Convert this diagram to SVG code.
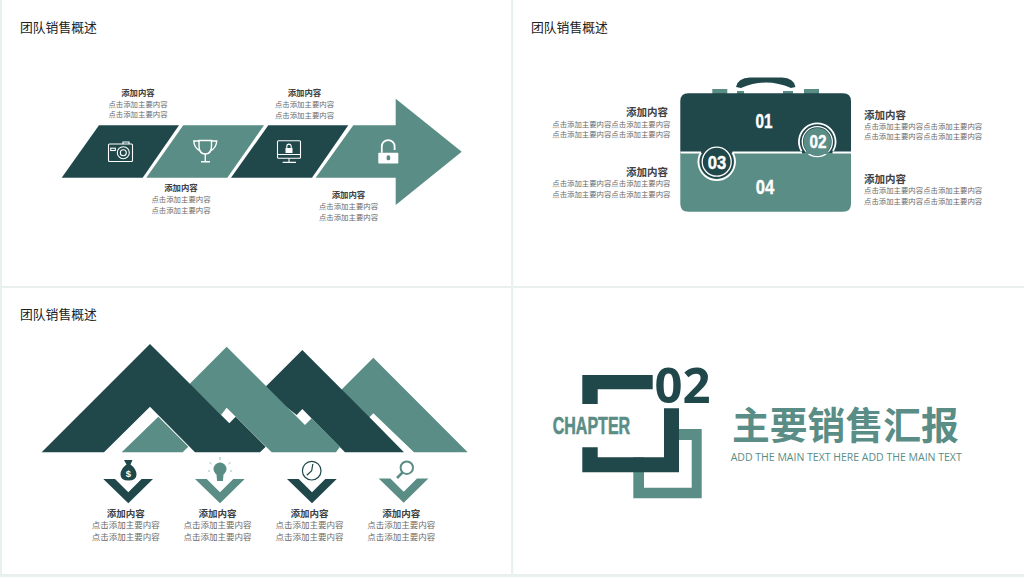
<svg xmlns="http://www.w3.org/2000/svg" width="1024" height="577" viewBox="0 0 1024 577">
<style>
.d{fill:#20474a}.t{fill:#5a8d85}
text{font-family:"Noto Sans CJK SC","Noto Sans",sans-serif}
.h{font-size:12.8px;fill:#222}
.a{font-size:8.4px;font-weight:700;fill:#404040;text-anchor:middle}
.b{font-size:7.4px;fill:#6a6a6a;text-anchor:middle}
.a2{font-size:10.5px;font-weight:700;fill:#404040}
.b2{font-size:7.4px;fill:#6a6a6a}
.a3{font-size:9.5px;font-weight:700;fill:#404040;text-anchor:middle}
.b3{font-size:8.5px;fill:#6a6a6a;text-anchor:middle}
.n{font-family:"Liberation Sans",sans-serif;font-weight:700;fill:#fff;text-anchor:middle;stroke:#fff;stroke-width:.4}
.w{fill:none;stroke:#fff;stroke-width:1.1}
.i{fill:none;stroke-width:1.2}
</style>
<rect width="1024" height="577" fill="#fff"/>
<g id="grid" fill="#e9f0f0"><rect x="0" y="0" width="2" height="577"/><rect x="511" y="0" width="2.2" height="577"/><rect x="0" y="286" width="1024" height="2"/><rect x="0" y="574" width="1024" height="3"/></g>

<g id="panel1">
<text class="h" x="20" y="31.500">团队销售概述</text>
<g id="arrow-1"><polygon class="d" points="61.7,177.7 99,125.3 179,125.3 142.7,177.7"/>
<g class="w"><rect x="108.5" y="144" width="24" height="17.5" rx="1"/><path d="M123 144V142H129V144"/><circle cx="123.3" cy="152.7" r="6"/><circle cx="123.3" cy="152.7" r="3"/><rect x="110.7" y="148.2" width="4.6" height="2.3"/></g></g>
<g id="arrow-2"><polygon class="t" points="146.3,177.7 183.3,125.3 264,125.3 227.3,177.7"/>
<g class="w" style="stroke-width:1.4"><path d="M199 140.5H211.5V146Q211.5 154 205.3 154Q199 154 199 146Z"/><path d="M199 141H193.8Q194 148 200.5 151M211.5 141H216.7Q216.5 148 210 151M205.3 154V161.5M201 161.7H210"/></g></g>
<g id="arrow-3"><polygon class="d" points="231,177.7 268.3,125.3 348.3,125.3 312,177.7"/>
<g class="w"><rect x="277.5" y="140.8" width="23" height="17.5" rx="1"/><path d="M277.5 154.5H300.5M289 158.5V162.3M282.7 162.4H296"/><rect x="285.5" y="148" width="7" height="5" fill="#fff" stroke="none"/><path d="M286.8 148V146.3A2.2 2.2 0 0 1 291.2 146.3V148"/></g></g>
<g id="arrow-4"><polygon class="t" points="315.7,177.7 353.3,125.3 395.7,125.3 395.7,98.7 461.7,151.7 395.7,205 395.7,177.7"/>
<rect x="378.3" y="152.7" width="20" height="10.8" rx="0.8" fill="#fff"/><path d="M381.8 152.7V146.5A6.4 6.4 0 0 1 394.6 146.5V150" fill="none" stroke="#fff" stroke-width="1.8"/><rect x="386.6" y="155.3" width="3.6" height="5" rx="1.6" class="t"/></g>
<g id="label-1"><text class="a" x="138" y="95.5">添加内容</text><text class="b" x="138" y="106.5">点击添加主要内容</text><text class="b" x="138" y="117">点击添加主要内容</text></g>
<g id="label-2"><text class="a" x="181" y="191.3">添加内容</text><text class="b" x="181" y="202.3">点击添加主要内容</text><text class="b" x="181" y="213">点击添加主要内容</text></g>
<g id="label-3"><text class="a" x="304.500" y="96">添加内容</text><text class="b" x="304.500" y="107">点击添加主要内容</text><text class="b" x="304.500" y="117.500">点击添加主要内容</text></g>
<g id="label-4"><text class="a" x="348.500" y="198">添加内容</text><text class="b" x="348.500" y="209">点击添加主要内容</text><text class="b" x="348.500" y="219.500">点击添加主要内容</text></g>
</g>

<g id="panel2">
<text class="h" x="531" y="31.500">团队销售概述</text>
<g id="briefcase">
<rect class="t" x="712.3" y="89" width="15" height="5"/><rect class="t" x="804" y="89" width="15" height="5"/>
<rect class="t" x="737" y="91" width="7" height="4"/><rect class="t" x="783" y="91" width="10" height="4"/>
<path class="d" d="M736 87Q737.500 78 750 77.500H782Q794 78 795.500 87L791 88Q766 77 741 88Z"/>
<path class="d" d="M688.300 93.300H843Q851 93.300 851 101.300V154H680.300V101.300Q680.300 93.300 688.300 93.300Z"/>
<path class="t" d="M680.300 153H851V203.700Q851 211.700 843 211.700H688.300Q680.300 211.700 680.300 203.700Z"/>
<path d="M680.300 152.500H701M732.500 152.500H802M832.500 152.500H851" stroke="#fff" stroke-width="2.200" fill="none"/>
</g>
<g id="badge-01"><text class="n" x="764" y="128.300" font-size="19.500" textLength="17" lengthAdjust="spacingAndGlyphs">01</text></g>
<g id="badge-02"><path d="M801.500 151A18.300 18.300 0 1 1 833 151" fill="none" stroke="#fff" stroke-width="1.800"/><circle cx="817.300" cy="141.700" r="15" fill="none" stroke="#fff" stroke-width="1.300"/><circle class="t" cx="817.300" cy="141.700" r="13.800"/><path class="t" d="M807 150H827.500L830 154H804.500Z"/><text class="n" x="818" y="148.300" font-size="17.500" textLength="17" lengthAdjust="spacingAndGlyphs">02</text></g>
<g id="badge-03"><circle class="d" cx="716.700" cy="161.700" r="17"/><path d="M700.900 152.500A18.300 18.300 0 1 0 732.500 152.500" fill="none" stroke="#fff" stroke-width="1.800"/><circle cx="716.700" cy="161.700" r="14.500" fill="none" stroke="#fff" stroke-width="1.300"/><text class="n" x="717" y="169" font-size="19" textLength="18.500" lengthAdjust="spacingAndGlyphs">03</text></g>
<g id="badge-04"><text class="n" x="765" y="194.300" font-size="21" textLength="18.500" lengthAdjust="spacingAndGlyphs">04</text></g>
<g text-anchor="end">
<g id="label-l1"><text class="a2" x="668" y="115.500">添加内容</text><text class="b2" x="670.500" y="126.500">点击添加主要内容点击添加主要内容</text><text class="b2" x="670.500" y="136.500">点击添加主要内容点击添加主要内容</text></g>
<g id="label-l2"><text class="a2" x="668" y="175.800">添加内容</text><text class="b2" x="670.500" y="186">点击添加主要内容点击添加主要内容</text><text class="b2" x="670.500" y="196.500">点击添加主要内容点击添加主要内容</text></g>
</g>
<g id="label-r1"><text class="a2" x="864" y="118.500">添加内容</text><text class="b2" x="864" y="128.800">点击添加主要内容点击添加主要内容</text><text class="b2" x="864" y="139">点击添加主要内容点击添加主要内容</text></g>
<g id="label-r2"><text class="a2" x="864" y="183">添加内容</text><text class="b2" x="864" y="193.300">点击添加主要内容点击添加主要内容</text><text class="b2" x="864" y="203.500">点击添加主要内容点击添加主要内容</text></g>
</g>

<g id="panel3">
<text class="h" x="20" y="318.500">团队销售概述</text>
<g id="mountains" transform="translate(30 335) scale(.33333)">
<polygon class="t" points="925,173 1030,68 1313,352 1152,352 1030,235 1015,250"/>
<polygon class="d" points="700,162 817,45 1020,248 1122,352 945,352 817,222 800,240"/>
<polygon class="t" points="478,148 590,35 825,270 845,250 930,335 918,352 725,352 590,218 573,240"/>
<polygon class="t" points="385,245 475,335 458,352 275,352"/>
<polygon class="d" points="360,27 598,265 617,245 707,335 690,352 495,352 360,215 222,352 35,352"/>
</g>
<g id="item-1"><polygon class="d" points="103.300,479 115,479 128.300,492.300 141.600,479 153,479 128.300,503.300"/>
<path class="d" d="M124 460H132.500L130.500 464.500Q136.500 469 136.500 474.500Q136.500 480.500 128.300 480.500Q120.500 480.500 120.500 474.500Q120.500 469 126.500 464.500Z"/>
<text x="128.300" y="477" font-size="9.500" font-weight="700" fill="#fff" text-anchor="middle" style="font-family:'Liberation Sans',sans-serif">$</text>
<text class="a3" x="125.700" y="516.700">添加内容</text><text class="b3" x="125.700" y="528.300">点击添加主要内容</text><text class="b3" x="125.700" y="539.500">点击添加主要内容</text></g>
<g id="item-2"><polygon class="t" points="195,479 206.700,479 220,492.300 233.300,479 244.700,479 220,503.300"/>
<circle class="t" cx="220" cy="469" r="6.500"/><path d="M216.500 474H223.500L223 481H217Z" class="t"/>
<path d="M220 460V457M211.500 464L209.500 462.500M228.500 464L230.500 462.500M210 471H208M230 471H232" stroke="#9dbab5" stroke-width="1" fill="none"/>
<text class="a3" x="217.500" y="516.700">添加内容</text><text class="b3" x="217.500" y="528.300">点击添加主要内容</text><text class="b3" x="217.500" y="539.500">点击添加主要内容</text></g>
<g id="item-3"><polygon class="d" points="287,479 298.700,479 312,492.300 325.300,479 336.700,479 312,503.300"/>
<circle class="i" cx="311.700" cy="470.700" r="9.300" stroke="#20474a"/><path class="i" d="M312.800 464L311.700 470.700L306.800 475.300" stroke="#20474a"/>
<text class="a3" x="309.500" y="516.700">添加内容</text><text class="b3" x="309.500" y="528.300">点击添加主要内容</text><text class="b3" x="309.500" y="539.500">点击添加主要内容</text></g>
<g id="item-4"><polygon class="t" points="378.700,478.500 390.400,478.500 403.700,491.800 417,478.500 428.400,478.500 403.700,502.800"/>
<circle cx="406.800" cy="467.700" r="6.200" fill="none" stroke="#5a8d85" stroke-width="2"/><path d="M402.500 472.500L397 478" stroke="#5a8d85" stroke-width="2.500" fill="none"/>
<text class="a3" x="401.300" y="516.700">添加内容</text><text class="b3" x="401.300" y="528.300">点击添加主要内容</text><text class="b3" x="401.300" y="539.500">点击添加主要内容</text></g>
</g>

<g id="panel4">
<path class="t" fill-rule="evenodd" d="M633.300 429H701.700V498.300H633.300ZM644 440V487.700H691.700V440Z"/>
<rect x="597.700" y="389.300" width="67" height="68" fill="#fff"/>
<polygon class="d" points="582.300,375 652.700,375 652.700,389.300 597.700,389.300 597.700,404 582.300,404"/>
<polygon class="d" points="664,408.300 679,408.300 679,472.300 582.300,472.300 582.300,447.300 597.700,447.300 597.700,457.300 664,457.300"/>
<text x="682.500" y="403.300" font-size="49" font-weight="700" fill="#20474a" text-anchor="middle" style="font-family:'Noto Sans',sans-serif">02</text>
<text x="552.700" y="434" font-size="24" font-weight="700" fill="#5a8d85" stroke="#5a8d85" stroke-width=".6" textLength="77.500" lengthAdjust="spacingAndGlyphs" style="font-family:'Liberation Sans',sans-serif">CHAPTER</text>
<text x="732" y="439" font-size="37.800" font-weight="700" fill="#5a8d85">主要销售汇报</text>
<text x="730.700" y="460.700" font-size="11" fill="#5a8d85" textLength="231" lengthAdjust="spacingAndGlyphs" style="font-family:'Open Sans',sans-serif">ADD THE MAIN TEXT HERE ADD THE MAIN TEXT</text>
</g>
</svg>
